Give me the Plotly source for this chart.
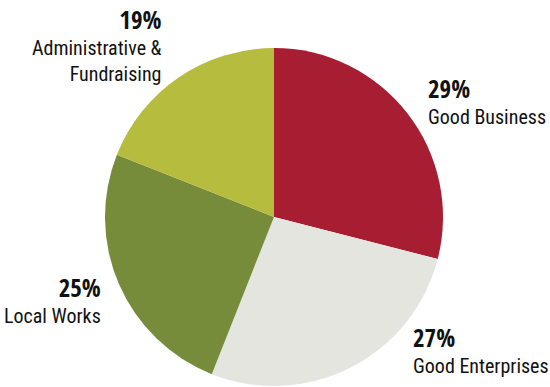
import plotly.graph_objects as go

# Data
categories = ["Good Business", "Good Enterprises", "Local Works", "Administrative &<br>Fundraising"]
values = [29, 27, 25, 19]
colors = ["#A71D31", "#E5E5E0", "#778C3A", "#B6BC3D"]

W, H = 550, 387
PCT_FONT = "Open Sans Condensed"
NAME_FONT = "Roboto Condensed, Liberation Sans, sans-serif"

fig = go.Figure(go.Pie(
    labels=categories,
    values=values,
    sort=False,
    direction="clockwise",
    rotation=0,
    marker=dict(colors=colors, line=dict(width=0)),
    textinfo="none",
    hoverinfo="label+percent",
    showlegend=False,
    domain=dict(x=[(274 - 169) / W, (274 + 169) / W],
                y=[(H - 217 - 169) / H, (H - 217 + 169) / H]),
))

# label layout (pixels): x edge, y of the label block top, alignment
label_pos = [
    (426, 69, "left"),
    (411, 318, "left"),
    (103, 268, "right"),
    (164, 0, "right"),
]

annotations = []
for cat, val, (px, py, al) in zip(categories, values, label_pos):
    name_lines = "<br>".join(f"<span style=\"font-size:20px\">{ln}</span>" for ln in cat.split("<br>"))
    text = (f"<span style=\"font-family:{PCT_FONT};font-size:25px\"><b>{val}%</b></span>"
            f"<br>{name_lines}")
    annotations.append(dict(
        x=px / W, y=1 - py / H, xref="paper", yref="paper",
        xanchor=al, yanchor="top", align=al, showarrow=False,
        text=text,
        font=dict(family=NAME_FONT, size=20, color="#111111"),
    ))

fig.update_layout(
    width=W, height=H,
    margin=dict(l=0, r=0, t=0, b=0),
    paper_bgcolor="white",
    plot_bgcolor="white",
    annotations=annotations,
)

fig.write_html("out.html")
